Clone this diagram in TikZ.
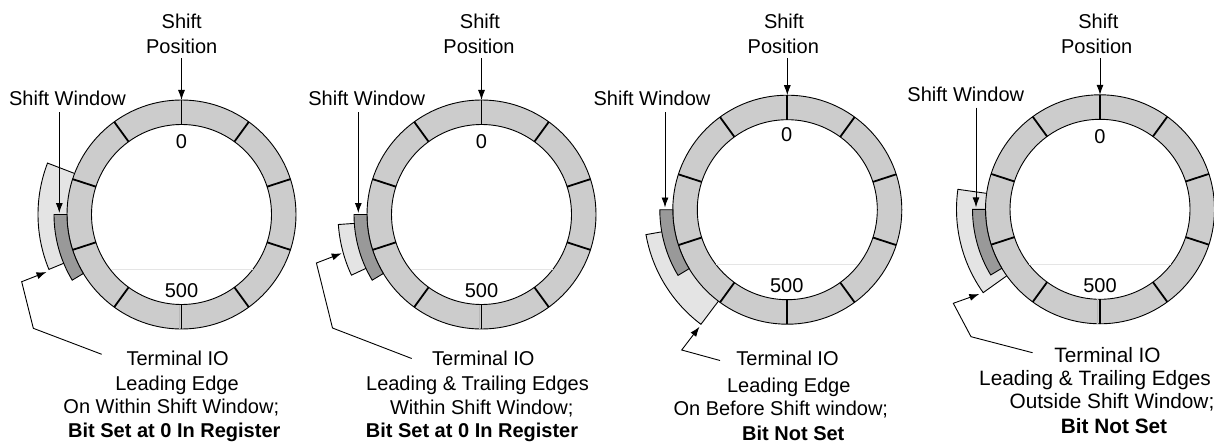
\documentclass[tikz,border=0pt]{standalone}
\usepackage{fontspec}
\setmainfont{Liberation Sans}
\usetikzlibrary{calc,arrows.meta}
\definecolor{ringgray}{HTML}{CCCCCC}
\definecolor{wingray}{HTML}{999999}
\definecolor{iogray}{HTML}{E4E4E4}
\tikzset{
 lbl/.style={inner sep=0pt, anchor=base, font=\fontsize{20}{24}\selectfont},
 blbl/.style={inner sep=0pt, anchor=base, font=\fontsize{20}{24}\selectfont\bfseries},
 biglbl/.style={inner sep=0pt, anchor=base, font=\fontsize{20.8}{24}\selectfont},
 bigblbl/.style={inner sep=0pt, anchor=base, font=\fontsize{20.8}{24}\selectfont\bfseries},
 ringfill/.style={draw=black, line width=0.9pt, fill=ringgray, even odd rule},
 tickline/.style={line width=1.8pt},
 winfill/.style={draw=black, line width=0.9pt, fill=wingray},
 iofill/.style={draw=black, line width=0.9pt, fill=iogray},
 arr/.style={line width=0.9pt, -{Latex[length=10pt,width=7pt]}},
 chord/.style={black!10, line width=0.8pt},
 dbl/.style={gray!55, line width=1pt},
}
\newcommand\ringpanel[5]{%
 \coordinate (c#1) at (#2,#3);
 \draw[iofill] ($(c#1)+(#4:143.5)$) arc[start angle=#4,end angle=#5,radius=143.5]
   -- ($(c#1)+(#5:110)$) arc[start angle=#5,end angle=#4,radius=110] -- cycle;
 \draw[ringfill] (c#1) circle[radius=114.5] (c#1) circle[radius=90];
 \draw[chord] ($(c#1)+(-71,-55)$) -- ($(c#1)+(71,-55)$);
 \foreach \a in {90,126,...,414} \draw[tickline] ($(c#1)+(\a:90)$) -- ($(c#1)+(\a:114.5)$);
 \draw[winfill] ($(c#1)+(180:127.5)$) arc[start angle=180,end angle=211,radius=127.5]
   -- ($(c#1)+(211:114.5)$) arc[start angle=211,end angle=180,radius=114.5] -- cycle;
 \coordinate (top#1) at ($(c#1)+(0,114.5)$);
}
\begin{document}
\begin{tikzpicture}[x=1pt,y=1pt]
\useasboundingbox (0,0) rectangle (1214,445);
\clip (0,0) rectangle (1214,445);

% ---------- panel 1
\ringpanel{1}{181.5}{230.5}{159}{202.5}
\draw[dbl] ($(c1)+(-2.2,-90)$) -- ($(c1)+(-2.2,-114.5)$);
\node[lbl] (sh1) at (181.7,416.3) {Shift};
\node[lbl] (po1) at (181.7,391.3) {Position};
\draw[arr, shorten <=4pt] (po1.south -| top1) -- (top1);
\node[lbl] (sw1) at (67.5,339) {Shift Window};
\coordinate (wt1) at (59.3,232);
\draw[arr, shorten <=6pt] (sw1.south -| wt1) -- (wt1);
\node[lbl] (z1) at (181.5,296.3) {0};
\node[lbl] (f1) at (181.5,148) {500};
\node[lbl] (t1) at (177.7,79.7) {Terminal IO};
\node[lbl] (l1) at (177,54.7) {Leading Edge};
\node[lbl] (o1) at (171.3,31.3) {On Within Shift Window;};
\node[blbl] (b1) at (174.3,7.3) {Bit Set at 0 In Register};
\coordinate (ts1) at (101.7,90.7);
\coordinate (tip1) at (46.5,173);
\draw[arr] (ts1) -- (33.3,116.7) -- (21.7,163.3) -- (tip1);

% ---------- panel 2
\ringpanel{2}{481.5}{230.5}{184}{205}
\draw[dbl] ($(c2)+(-2.2,-90)$) -- ($(c2)+(-2.2,-114.5)$);
\node[lbl] (sh2) at (480,416.3) {Shift};
\node[lbl] (po2) at (479,391.3) {Position};
\draw[arr, shorten <=4pt] (po2.south -| top2) -- (top2);
\node[lbl] (sw2) at (366.7,339) {Shift Window};
\coordinate (wt2) at (358.3,232);
\draw[arr, shorten <=6pt] (sw2.south -| wt2) -- (wt2);
\node[lbl] (z2) at (481.5,296.3) {0};
\node[lbl] (f2) at (481.5,148) {500};
\node[lbl] (t2) at (483.3,79.7) {Terminal IO};
\node[lbl] (l2) at (477.5,54.7) {Leading \& Trailing Edges};
\node[lbl] (o2) at (481.7,31) {Within Shift Window;};
\node[blbl] (b2) at (472,7.3) {Bit Set at 0 In Register};
\coordinate (ts2) at (411.7,86.5);
\coordinate (tip2) at (341.7,191.7);
\draw[arr] (ts2) -- (332.5,117) -- (316.4,182) -- (tip2);

% ---------- panel 3
\ringpanel{3}{787.3}{235.3}{190}{233}
\node[lbl] (sh3) at (784,416.3) {Shift};
\node[lbl] (po3) at (783.3,391.3) {Position};
\draw[arr, shorten <=4pt] (po3.south -| top3) -- (top3);
\node[lbl] (sw3) at (652,339) {Shift Window};
\coordinate (wt3) at (665,237.5);
\draw[arr, shorten <=6pt] (sw3.south -| wt3) -- (wt3);
\node[lbl] (z3) at (786.7,303) {0};
\node[lbl] (f3) at (786.7,153) {500};
\node[lbl] (t3) at (787.5,79.7) {Terminal IO};
\node[lbl] (l3) at (788.8,53) {Leading Edge};
\node[lbl] (o3) at (780.8,29.7) {On Before Shift window;};
\node[blbl] (b3) at (793.3,4.7) {Bit Not Set};
\coordinate (ts3) at (720,84.5);
\coordinate (tip3) at (699.5,118.3);
\draw[arr] (ts3) -- (681.7,95) -- (tip3);

% ---------- panel 4
\ringpanel{4}{1100}{235.7}{172}{215.5}
\draw[dbl] ($(c4)+(-2.2,-90)$) -- ($(c4)+(-2.2,-114.5)$);
\node[lbl] (sh4) at (1098.3,416.3) {Shift};
\node[lbl] (po4) at (1096.7,391.3) {Position};
\draw[arr, shorten <=4pt] (po4.south -| top4) -- (top4);
\node[lbl] (sw4) at (965.8,343.7) {Shift Window};
\coordinate (wt4) at (976,237.7);
\draw[arr, shorten <=6pt] (sw4.south -| wt4) -- (wt4);
\node[lbl] (z4) at (1100,301.3) {0};
\node[lbl] (f4) at (1100,153) {500};
\node[biglbl] (t4) at (1107.5,83) {Terminal IO};
\node[biglbl, anchor=base west] (l4) at (979,59.7) {Leading \& Trailing Edges};
\node[biglbl] (o4) at (1112,36.3) {Outside Shift Window;};
\node[bigblbl] (b4) at (1114,12) {Bit Not Set};
\coordinate (ts4) at (1032.5,92.3);
\coordinate (tip4) at (979.3,151);
\draw[arr] (ts4) -- (971,108.3) -- (953.3,141.7) -- (tip4);
\end{tikzpicture}
\end{document}
